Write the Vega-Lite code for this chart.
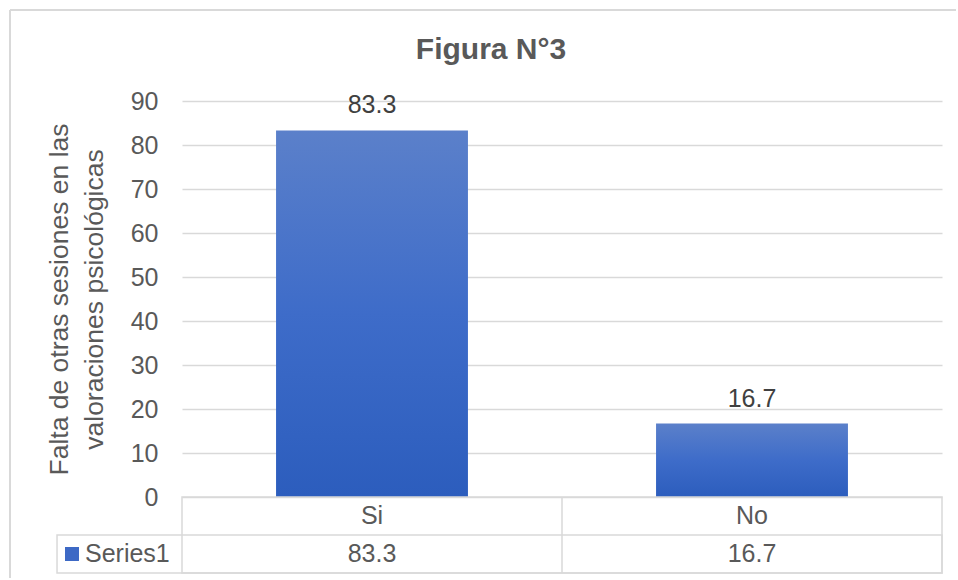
{
  "$schema": "https://vega.github.io/schema/vega-lite/v6.json",
  "width": 760,
  "height": 396,
  "padding": {"left": 9, "top": 9, "right": 0, "bottom": 0},
  "background": "white",
  "title": {
    "text": "Figura N°3",
    "fontSize": 30,
    "fontWeight": "bold",
    "color": "#595959",
    "font": "Liberation Sans",
    "anchor": "middle",
    "frame": "group",
    "dx": -71,
    "baseline": "alphabetic",
    "offset": -80
  },
  "config": {
    "view": {"stroke": null},
    "font": "Liberation Sans",
    "text": {"font": "Liberation Sans"}
  },
  "data": {
    "values": [
      {"cat": "Si", "value": 83.3},
      {"cat": "No", "value": 16.7}
    ]
  },
  "resolve": {"scale": {"x": "independent"}},
  "layer": [
    {
      "mark": {
        "type": "bar",
        "fill": {
          "gradient": "linear",
          "x1": 0, "y1": 0, "x2": 0, "y2": 1,
          "stops": [
            {"offset": 0, "color": "#5B80CA"},
            {"offset": 0.5, "color": "#3E6CC9"},
            {"offset": 1, "color": "#2C5DBD"}
          ]
        }
      },
      "encoding": {
        "x": {
          "field": "cat", "type": "nominal", "sort": null,
          "scale": {"domain": ["Si", "No"], "paddingInner": 0.495, "paddingOuter": 0.2475},
          "axis": null
        },
        "y": {
          "field": "value", "type": "quantitative",
          "scale": {"domain": [0, 90], "nice": false},
          "axis": {
            "values": [0, 10, 20, 30, 40, 50, 60, 70, 80, 90],
            "grid": true,
            "gridColor": "#D9D9D9",
            "gridWidth": 1.3,
            "domain": false,
            "ticks": false,
            "tickSize": 0,
            "labelFontSize": 25,
            "labelColor": "#595959",
            "labelFont": "Liberation Sans",
            "labelPadding": 24,
            "title": ["Falta de otras sesiones en las", "valoraciones psicológicas"],
            "titleFontSize": 26.5,
            "titleFontWeight": "normal",
            "titleColor": "#595959",
            "titleFont": "Liberation Sans",
            "titlePadding": 22,
            "titleLineHeight": 35
          }
        }
      }
    },
    {
      "mark": {"type": "text", "fontSize": 25, "color": "#404040", "baseline": "alphabetic", "dy": -17},
      "encoding": {
        "x": {"field": "cat", "type": "nominal", "sort": null, "scale": {"domain": ["Si", "No"]}, "axis": null},
        "y": {"field": "value", "type": "quantitative", "scale": {"domain": [0, 90], "nice": false}},
        "text": {"field": "value", "type": "quantitative", "format": ".1f"}
      }
    },
    {
      "mark": {"type": "text", "fontSize": 25, "color": "#595959", "baseline": "middle"},
      "encoding": {
        "x": {"field": "cat", "type": "nominal", "sort": null, "scale": {"domain": ["Si", "No"]}, "axis": null},
        "y": {"datum": -4.32, "type": "quantitative", "scale": {"domain": [0, 90], "nice": false}},
        "text": {"field": "cat", "type": "nominal"}
      }
    },
    {
      "mark": {"type": "text", "fontSize": 25, "color": "#595959", "baseline": "middle"},
      "encoding": {
        "x": {"field": "cat", "type": "nominal", "sort": null, "scale": {"domain": ["Si", "No"]}, "axis": null},
        "y": {"datum": -12.95, "type": "quantitative", "scale": {"domain": [0, 90], "nice": false}},
        "text": {"field": "value", "type": "quantitative", "format": ".1f"}
      }
    },
    {
      "data": {"values": [{"series": "Series1"}]},
      "mark": {"type": "text", "fontSize": 25, "color": "#595959", "baseline": "middle", "align": "left"},
      "encoding": {
        "x": {"datum": -0.2553, "type": "quantitative", "scale": {"domain": [0, 2], "nice": false, "zero": false}, "axis": null},
        "y": {"datum": -12.95, "type": "quantitative", "scale": {"domain": [0, 90], "nice": false}},
        "text": {"field": "series", "type": "nominal"}
      }
    },
    {
      "data": {"values": [{"series": "Series1"}]},
      "mark": {"type": "point", "shape": "square", "filled": true, "size": 196, "opacity": 1, "color": "#3D69C5"},
      "encoding": {
        "x": {"datum": -0.2895, "type": "quantitative", "scale": {"domain": [0, 2], "nice": false, "zero": false}, "axis": null},
        "y": {"datum": -12.95, "type": "quantitative", "scale": {"domain": [0, 90], "nice": false}}
      }
    },
    {
      "data": {"values": [{"series": "Series1"}]},
      "mark": {"type": "rect", "fill": null, "fillOpacity": 0, "stroke": "#D9D9D9", "strokeWidth": 1.5},
      "encoding": {
        "x": {"datum": -0.3289, "type": "quantitative", "scale": {"domain": [0, 2], "nice": false, "zero": false}, "axis": null},
        "x2": {"datum": 2},
        "y": {"datum": -8.64, "type": "quantitative", "scale": {"domain": [0, 90], "nice": false}},
        "y2": {"datum": -17.27}
      }
    },
    {
      "data": {"values": [{"series": "Series1"}]},
      "mark": {"type": "rect", "fill": null, "fillOpacity": 0, "stroke": "#D9D9D9", "strokeWidth": 1.5},
      "encoding": {
        "x": {"datum": 0, "type": "quantitative", "scale": {"domain": [0, 2], "nice": false, "zero": false}, "axis": null},
        "x2": {"datum": 2},
        "y": {"datum": 0, "type": "quantitative", "scale": {"domain": [0, 90], "nice": false}},
        "y2": {"datum": -17.27}
      }
    },
    {
      "data": {"values": [{"series": "Series1"}]},
      "mark": {"type": "rule", "color": "#D9D9D9", "strokeWidth": 1.5},
      "encoding": {
        "x": {"datum": 1, "type": "quantitative", "scale": {"domain": [0, 2], "nice": false, "zero": false}, "axis": null},
        "y": {"datum": 0, "type": "quantitative", "scale": {"domain": [0, 90], "nice": false}},
        "y2": {"datum": -17.27}
      }
    },
    {
      "data": {"values": [{"series": "Series1"}]},
      "mark": {"type": "rule", "color": "#D9D9D9", "strokeWidth": 2},
      "encoding": {
        "x": {"datum": -0.45263, "type": "quantitative", "scale": {"domain": [0, 2], "nice": false, "zero": false}, "axis": null},
        "x2": {"datum": 2.0368},
        "y": {"datum": 110.68, "type": "quantitative", "scale": {"domain": [0, 90], "nice": false}}
      }
    },
    {
      "data": {"values": [{"series": "Series1"}]},
      "mark": {"type": "rule", "color": "#D9D9D9", "strokeWidth": 2},
      "encoding": {
        "x": {"datum": -0.45263, "type": "quantitative", "scale": {"domain": [0, 2], "nice": false, "zero": false}, "axis": null},
        "y": {"datum": 110.68, "type": "quantitative", "scale": {"domain": [0, 90], "nice": false}},
        "y2": {"datum": -18.41}
      }
    }
  ]
}
